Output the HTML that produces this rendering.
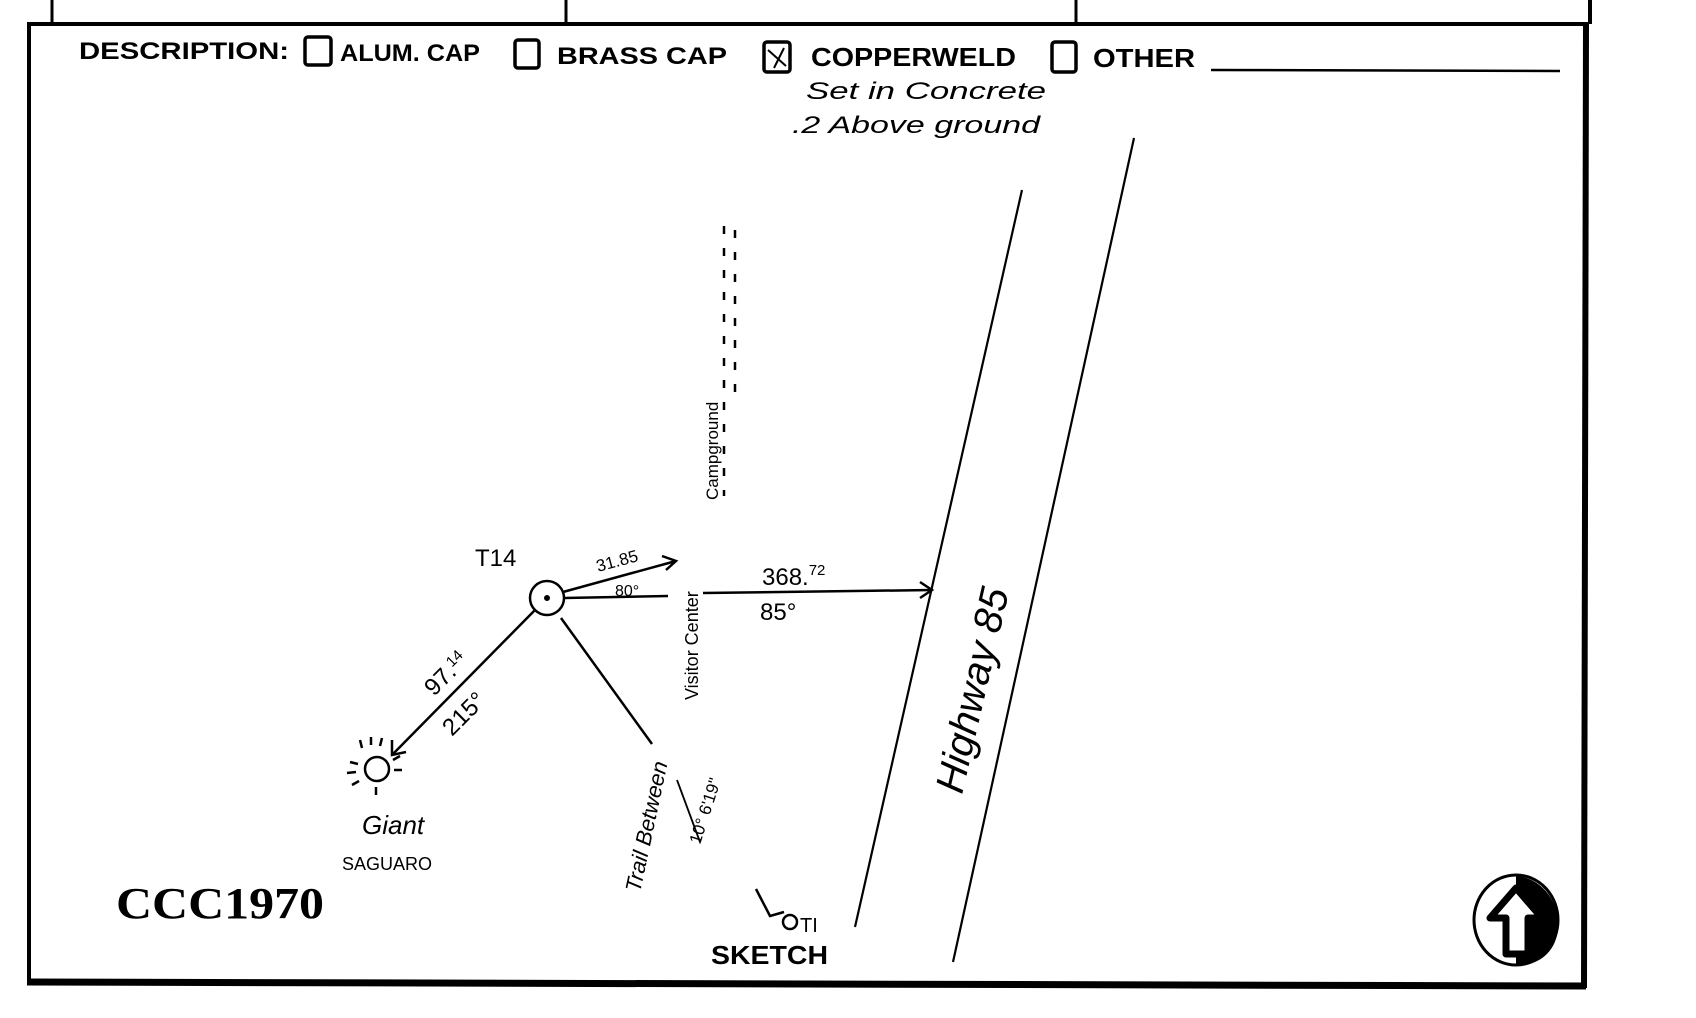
<!DOCTYPE html>
<html><head><meta charset="utf-8"><style>
html,body{margin:0;padding:0;background:#fff;}
body{width:1696px;height:1018px;overflow:hidden;position:relative;}
svg{position:absolute;left:0;top:0;}
.lbl{font-family:"Liberation Sans",sans-serif;font-weight:bold;fill:#000;}
.hand{font-family:"Liberation Sans",sans-serif;fill:#000;}
</style></head><body>
<svg width="1696" height="1018" viewBox="0 0 1696 1018">
<g stroke="#000" fill="none">
<line x1="52" y1="0" x2="52" y2="24" stroke-width="3"/>
<line x1="566" y1="0" x2="566" y2="24" stroke-width="3"/>
<line x1="1076" y1="0" x2="1076" y2="24" stroke-width="3"/>
<line x1="1590" y1="0" x2="1590" y2="24" stroke-width="4"/>
<line x1="27" y1="24" x2="1588" y2="24" stroke-width="4"/>
<line x1="29" y1="24" x2="29" y2="982" stroke-width="4"/>
<line x1="1586" y1="24" x2="1584" y2="988" stroke-width="6"/>
<line x1="27" y1="982" x2="1586" y2="986" stroke-width="7"/>
<rect x="305" y="37" width="26" height="28" rx="3" stroke-width="3.5"/>
<rect x="515" y="40" width="24" height="28" rx="3" stroke-width="3.5"/>
<rect x="764" y="42" width="26" height="30" rx="3" stroke-width="3.5"/>
<path d="M768 50 L786 66 M784 48 L774 68" stroke-width="2"/>
<rect x="1052" y="42" width="24" height="30" rx="3" stroke-width="3.5"/>
<line x1="1211" y1="70" x2="1560" y2="71" stroke-width="2.5"/>
<line x1="1022" y1="190" x2="855" y2="927" stroke-width="2.2"/>
<line x1="1134" y1="138" x2="953" y2="962" stroke-width="2.2"/>
<line x1="724" y1="226" x2="724" y2="496" stroke-width="2.5" stroke-dasharray="8 14"/>
<line x1="735" y1="230" x2="735" y2="400" stroke-width="2.5" stroke-dasharray="8 14"/>
<circle cx="547" cy="598" r="17" stroke-width="2.5"/>
<circle cx="547" cy="598" r="2.5" fill="#000"/>
<line x1="563" y1="592" x2="676" y2="561" stroke-width="2.5"/>
<path d="M662 556 L676 561 L666 570" stroke-width="2.5"/>
<line x1="564" y1="598" x2="668" y2="596" stroke-width="2.5"/>
<line x1="703" y1="593" x2="932" y2="590" stroke-width="2.5"/>
<path d="M920 582 L932 590 L920 598" stroke-width="2.5"/>
<line x1="535" y1="610" x2="392" y2="755" stroke-width="2.5"/>
<path d="M392 740 L392 755 L406 752" stroke-width="2.5"/>
<line x1="561" y1="618" x2="652" y2="744" stroke-width="2.5"/>
<line x1="677" y1="780" x2="700" y2="842" stroke-width="1.8"/>
<circle cx="377" cy="769" r="12" stroke-width="2.5"/>
<g stroke-width="2.5">
<line x1="360" y1="740" x2="362" y2="748"/><line x1="371" y1="737" x2="371" y2="745"/><line x1="382" y1="738" x2="380" y2="746"/>
<line x1="350" y1="762" x2="358" y2="764"/><line x1="347" y1="773" x2="356" y2="772"/><line x1="352" y1="785" x2="359" y2="781"/>
<line x1="376" y1="787" x2="376" y2="795"/><line x1="394" y1="770" x2="402" y2="770"/><line x1="393" y1="760" x2="400" y2="756"/>
</g>
<path d="M756 889 L770 916 L784 912" stroke-width="2.5"/>
<circle cx="790" cy="922" r="7" stroke-width="2.5"/>
</g>
<ellipse cx="1516" cy="920" rx="42" ry="45" fill="#fff" stroke="#000" stroke-width="3"/>
<path d="M1518 876 C1545 880 1560 905 1558 930 C1555 952 1540 965 1516 966 L1516 876 Z" fill="#000"/>
<path d="M1516 888 L1542 918 L1528 918 L1528 954 L1506 954 L1506 918 L1490 918 Z" fill="#fff" stroke="#000" stroke-width="7" stroke-linejoin="round"/>
<text class="lbl" x="79" y="59" font-size="24" textLength="210" lengthAdjust="spacingAndGlyphs">DESCRIPTION:</text>
<text class="lbl" x="340" y="61" font-size="24" textLength="140" lengthAdjust="spacingAndGlyphs">ALUM. CAP</text>
<text class="lbl" x="557" y="64" font-size="24" textLength="170" lengthAdjust="spacingAndGlyphs">BRASS CAP</text>
<text class="lbl" x="811" y="66" font-size="26" textLength="205" lengthAdjust="spacingAndGlyphs">COPPERWELD</text>
<text class="lbl" x="1093" y="67" font-size="26" textLength="102" lengthAdjust="spacingAndGlyphs">OTHER</text>
<text class="hand" x="806" y="99" font-size="24" font-style="italic" textLength="240" lengthAdjust="spacingAndGlyphs">Set in Concrete</text>
<text class="hand" x="792" y="133" font-size="24" font-style="italic" textLength="248" lengthAdjust="spacingAndGlyphs">.2 Above ground</text>
<text class="hand" x="475" y="566" font-size="24">T14</text>
<text class="hand" x="598" y="572" font-size="17" transform="rotate(-15 598 572)">31.85</text>
<text class="hand" x="615" y="596" font-size="16">80°</text>
<text class="hand" x="762" y="585" font-size="24">368.<tspan font-size="15" dy="-10">72</tspan></text>
<text class="hand" x="760" y="620" font-size="24">85°</text>
<text class="hand" x="434" y="697" font-size="24" transform="rotate(-45 434 697)">97.<tspan font-size="15" dy="-8">14</tspan></text>
<text class="hand" x="452" y="737" font-size="24" transform="rotate(-45 452 737)">215°</text>
<text class="hand" x="362" y="834" font-size="26" font-style="italic">Giant</text>
<text class="hand" x="342" y="870" font-size="18">SAGUARO</text>
<text class="hand" x="698" y="700" font-size="18" transform="rotate(-90 698 700)">Visitor Center</text>
<text class="hand" x="718" y="500" font-size="17" transform="rotate(-90 718 500)">Campground</text>
<text class="hand" x="640" y="893" font-size="22" font-style="italic" transform="rotate(-78 640 893)">Trail Between</text>
<text class="hand" x="700" y="845" font-size="17" transform="rotate(-72 700 845)">10° 6'19"</text>
<text class="hand" x="962" y="795" font-size="40" font-style="italic" transform="rotate(-77 962 795)">Highway 85</text>
<text class="hand" x="800" y="932" font-size="20">TI</text>
<text x="116" y="918" font-family="Liberation Serif,serif" font-size="44" font-weight="bold" fill="#000" textLength="208" lengthAdjust="spacingAndGlyphs">CCC1970</text>
<text class="lbl" x="711" y="964" font-size="26" textLength="117" lengthAdjust="spacingAndGlyphs">SKETCH</text>
</svg>
</body></html>
